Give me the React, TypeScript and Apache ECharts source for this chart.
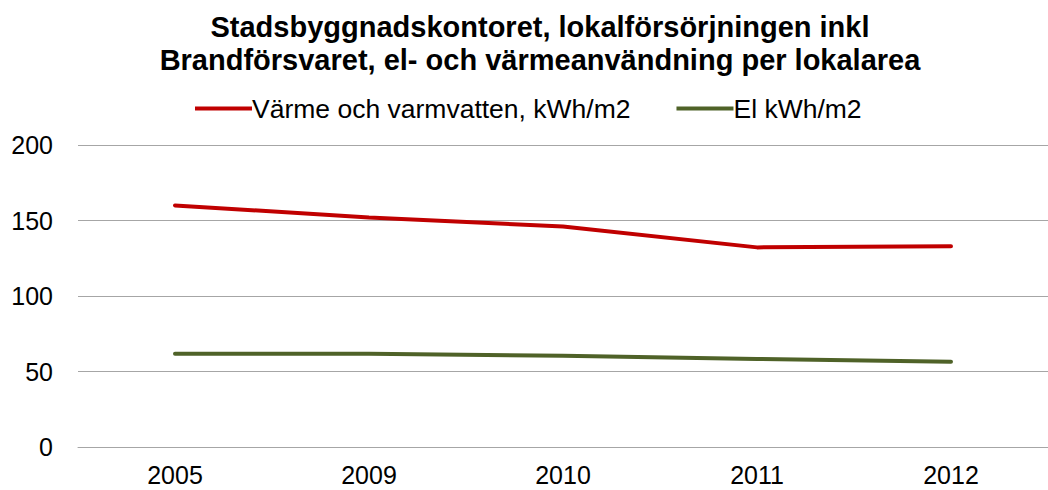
import React, { useEffect, useRef } from "react";
import * as echarts from "echarts";

const titleLines = [
  "Stadsbyggnadskontoret, lokalförsörjningen inkl",
  "Brandförsvaret, el- och värmeanvändning per lokalarea",
];
const years = ["2005", "2009", "2010", "2011", "2012"];
const heatName = "Värme och varmvatten, kWh/m2";
const elName = "El kWh/m2";
const heatValues = [160, 152, 146, 132.2, 132.9];
const elValues = [61.8, 61.7, 60.5, 58.3, 56.5];
const yTicks = { min: 0, max: 200, interval: 50 };

const FONT = "'Liberation Sans', Arial, sans-serif";

export default function App() {
  const ref = useRef<HTMLDivElement>(null);
  useEffect(() => {
    if (!ref.current) return;
    const chart = echarts.init(ref.current, undefined, { renderer: "svg" });
    chart.setOption({
      animation: false,
      title: {
        text: titleLines.join("\n"),
        left: 535,
        textAlign: "center",
        top: 5,
        textStyle: {
          fontFamily: FONT,
          fontSize: 29,
          fontWeight: "bold",
          color: "#000",
          lineHeight: 33,
        },
      },
      legend: {
        top: 95,
        left: 195,
        padding: 0,
        itemWidth: 57,
        itemHeight: 4,
        itemGap: 46,
        icon: "rect",
        textStyle: {
          fontFamily: FONT,
          fontSize: 26.5,
          lineHeight: 26,
          color: "#000",
          padding: [0, 0, 0, -5],
        },
        data: [heatName, elName],
      },
      grid: { left: 78, right: -10, top: 145, bottom: 43, containLabel: false },
      xAxis: {
        type: "category",
        data: years,
        boundaryGap: true,
        axisLine: { show: true, lineStyle: { color: "#a6a6a6", width: 1 } },
        axisTick: { show: false },
        axisLabel: { fontFamily: FONT, fontSize: 25, color: "#000", margin: 15 },
      },
      yAxis: {
        type: "value",
        min: yTicks.min,
        max: yTicks.max,
        interval: yTicks.interval,
        axisLine: { show: false },
        axisTick: { show: false },
        splitLine: { lineStyle: { color: "#a6a6a6", width: 1 } },
        axisLabel: { fontFamily: FONT, fontSize: 25, color: "#000", margin: 25 },
      },
      series: [
        {
          name: heatName,
          type: "line",
          data: heatValues,
          symbol: "none",
          lineStyle: { color: "#C00000", width: 4, cap: "round" },
          itemStyle: { color: "#C00000" },
        },
        {
          name: elName,
          type: "line",
          data: elValues,
          symbol: "none",
          lineStyle: { color: "#4F6228", width: 4, cap: "round" },
          itemStyle: { color: "#4F6228" },
        },
      ],
    });
    return () => chart.dispose();
  }, []);
  return <div ref={ref} style={{ width: 1048, height: 490, position: "absolute", left: 0, top: 0 }} />;
}
